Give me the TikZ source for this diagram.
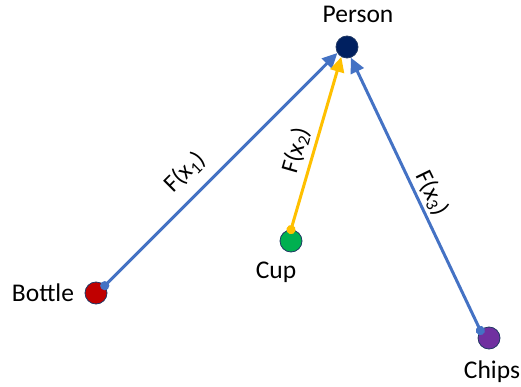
\documentclass[tikz,border=0pt]{standalone}
\usepackage{fontspec}
\setmainfont{Carlito}
\usetikzlibrary{arrows.meta}
\definecolor{lineblue}{HTML}{4472C4}
\definecolor{lineyellow}{HTML}{FFC000}
\definecolor{navy}{HTML}{002060}
\definecolor{dred}{HTML}{C00000}
\definecolor{dgreen}{HTML}{00B050}
\definecolor{dpurple}{HTML}{7030A0}
\definecolor{edgec}{HTML}{203864}
\tikzset{
  dot/.style={circle, draw=edgec, line width=0.8pt, minimum size=22pt, inner sep=0pt},
  lbl/.style={font=\fontsize{25.5}{30}\selectfont, inner sep=0pt},
  flbl/.style={font=\fontsize{24.5}{29}\selectfont, inner sep=0pt},
  conn/.style={line width=3pt, {Circle[length=9pt]}-{Triangle[length=15pt,width=14pt]}, shorten <=-4.5pt},
}
\begin{document}
\begin{tikzpicture}[x=1pt,y=-1pt]
\useasboundingbox (0,0) rectangle (521,387);
\node[dot, fill=navy] (person) at (347,47) {};
\node[dot, fill=dred] (bottle) at (96,293) {};
\node[dot, fill=dgreen] (cup) at (291,241) {};
\node[dot, fill=dpurple] (chips) at (489,338) {};
\node[lbl] (tperson) at (358,14) {Person};
\node[lbl] (tbottle) at (43,293) {Bottle};
\node[lbl] (tcup) at (276,272) {Cup};
\node[lbl] (tchips) at (492,372) {Chips};
\draw[conn, draw=lineblue, color=lineblue] (bottle.40) -- (person.212);
\draw[conn, draw=lineyellow, color=lineyellow] (cup.90) -- (person.240);
\draw[conn, draw=lineblue, color=lineblue] (chips.139) -- (person.290);
\node[flbl, rotate=45] (f1) at (185,172) {F(x\textsubscript{1})};
\node[flbl, rotate=74] (f2) at (296,150) {F(x\textsubscript{2})};
\node[flbl, rotate=-64] (f3) at (432,193) {F(x\textsubscript{3})};
\end{tikzpicture}
\end{document}
